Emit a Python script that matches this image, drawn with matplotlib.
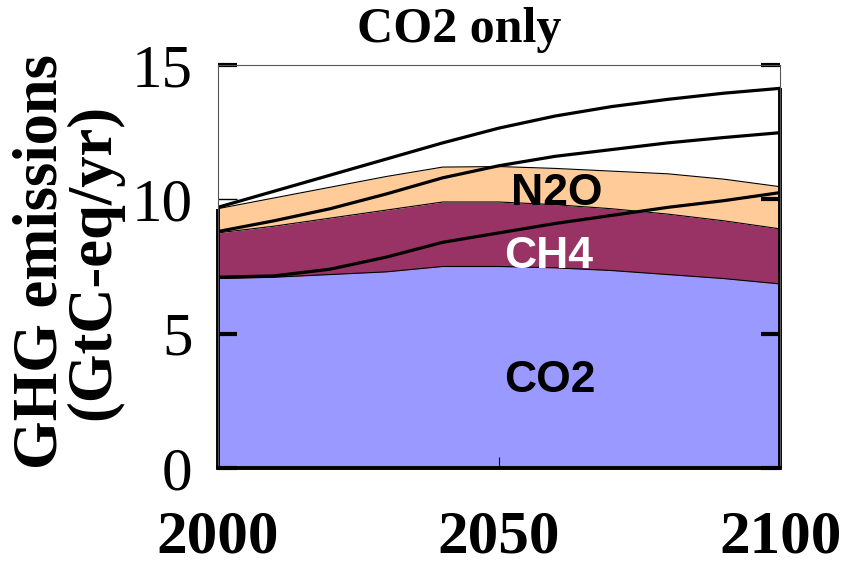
import matplotlib
matplotlib.use("Agg")
import matplotlib.pyplot as plt
import numpy as np

years = [2000, 2010, 2020, 2030, 2040, 2050, 2060, 2070, 2080, 2090, 2100]
co2 = [7.05, 7.1, 7.2, 7.3, 7.5, 7.5, 7.45, 7.35, 7.2, 7.05, 6.85]
ch4_top = [8.75, 9.0, 9.3, 9.6, 9.9, 9.9, 9.8, 9.65, 9.45, 9.2, 8.9]
n2o_top = [9.65, 10.05, 10.45, 10.85, 11.2, 11.22, 11.15, 11.05, 10.95, 10.75, 10.47]
line_a = [9.7, 10.3, 10.9, 11.5, 12.1, 12.65, 13.1, 13.45, 13.72, 13.95, 14.13]
line_b = [8.8, 9.2, 9.65, 10.2, 10.8, 11.25, 11.6, 11.85, 12.1, 12.3, 12.48]
line_c = [7.1, 7.15, 7.4, 7.85, 8.4, 8.75, 9.1, 9.4, 9.7, 9.95, 10.25]
yticks = [0, 5, 10, 15]
xticks = [2000, 2050, 2100]

serif = "Liberation Serif"
sans = "Liberation Sans"

fig = plt.figure(figsize=(8.47, 5.67), dpi=100)
ax = fig.add_axes([0.257, 0.1746, 0.664, 0.7108])

ax.fill_between(years, 0, co2, color="#9999FF", lw=0)
ax.fill_between(years, co2, ch4_top, color="#993366", lw=0)
ax.fill_between(years, ch4_top, n2o_top, color="#FFCC99", lw=0)
for s in (co2, ch4_top, n2o_top):
    ax.plot(years, s, color="black", lw=0.8)
for s in (line_a, line_b, line_c):
    ax.plot(years, s, color="black", lw=2.3, solid_capstyle="round")

# thick outline edges of the stacked block
ax.plot([years[0], years[0]], [0, n2o_top[0]], color="black", lw=2.8, clip_on=False, solid_capstyle="butt")
ax.plot([years[-1], years[-1]], [0, line_a[-1]], color="black", lw=2.8, clip_on=False, solid_capstyle="butt")

ax.set_xlim(2000, 2100)
ax.set_ylim(0, 15)
ax.set_yticks(yticks)
ax.set_xticks(xticks)
ax.set_yticklabels([str(v) for v in yticks], fontfamily=serif, fontsize=44)
ax.set_xticklabels([str(v) for v in xticks], fontfamily=serif, fontsize=44, fontweight="bold")
ax.tick_params(axis="y", direction="in", length=14, width=3, right=True, pad=18)
ax.tick_params(axis="x", direction="in", length=8, width=0.8, pad=30)
t10 = ax.yaxis.get_major_ticks()[2]
t10.tick1line.set_markeredgewidth(1.0)
t10.tick1line.set_color("#555555")

ax.spines["bottom"].set_linewidth(2.8)
for side in ("left", "top", "right"):
    ax.spines[side].set_linewidth(0.8)
    ax.spines[side].set_color("#555555")

ax.text(2060.3, 10.2, "N2O", fontfamily=sans, fontweight="bold", fontsize=32, ha="center", va="center", color="black")
ax.text(2058.9, 7.89, "CH4", fontfamily=sans, fontweight="bold", fontsize=32, ha="center", va="center", color="white")
ax.text(2059.1, 3.27, "CO2", fontfamily=sans, fontweight="bold", fontsize=32, ha="center", va="center", color="black")

fig.text(459 / 847, 1 - 30 / 567, "CO2 only", fontfamily=serif, fontweight="bold", fontsize=36, ha="center", va="center")
fig.text(68 / 847, 1 - 262 / 567, "GHG emissions\n(GtC-eq/yr)", fontfamily=serif, fontweight="bold", fontsize=45,
         linespacing=0.88, rotation=90, ha="center", va="center", multialignment="center")

fig.savefig("out.png", dpi=100)
